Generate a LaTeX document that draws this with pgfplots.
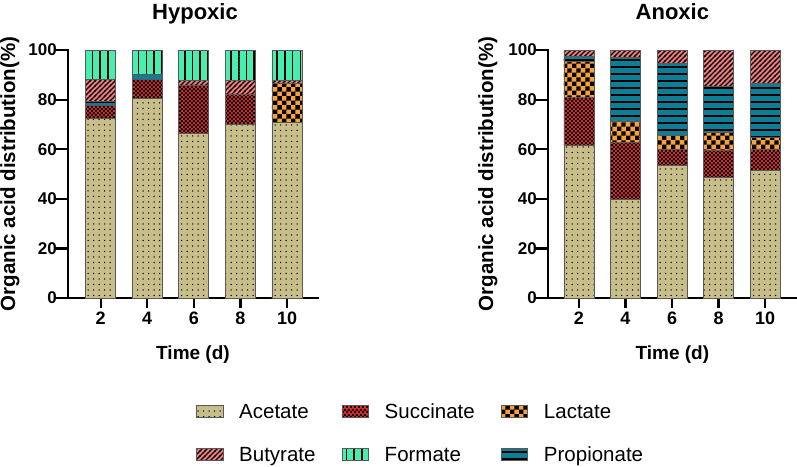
\documentclass[border=0pt]{standalone}
\usepackage{pgfplots}
\pgfplotsset{compat=1.18}
\usetikzlibrary{patterns}
\usepackage{fontspec}
\setmainfont{Liberation Sans}

\pgfdeclarepatternformonly{acetdots}{\pgfqpoint{-1pt}{-1pt}}{\pgfqpoint{1pt}{1pt}}{\pgfqpoint{5.5pt}{5.5pt}}{\pgfpathcircle{\pgfpointorigin}{0.75pt}\pgfusepath{fill}}
\pgfdeclarepatternformonly{smallcheck}{\pgfpointorigin}{\pgfqpoint{4.4pt}{4.4pt}}{\pgfqpoint{4.4pt}{4.4pt}}{\pgfpathrectangle{\pgfpointorigin}{\pgfqpoint{2.25pt}{2.25pt}}\pgfpathrectangle{\pgfqpoint{2.2pt}{2.2pt}}{\pgfqpoint{2.25pt}{2.25pt}}\pgfusepath{fill}}
\pgfdeclarepatternformonly{bigcheck}{\pgfpointorigin}{\pgfqpoint{8.8pt}{8.8pt}}{\pgfqpoint{8.8pt}{8.8pt}}{\pgfpathrectangle{\pgfpointorigin}{\pgfqpoint{4.45pt}{4.45pt}}\pgfpathrectangle{\pgfqpoint{4.4pt}{4.4pt}}{\pgfqpoint{4.45pt}{4.45pt}}\pgfusepath{fill}}
\pgfdeclarepatternformonly{diaglines}{\pgfqpoint{-1pt}{-1pt}}{\pgfqpoint{6pt}{6pt}}{\pgfqpoint{5pt}{5pt}}{\pgfsetlinewidth{1.3pt}\pgfpathmoveto{\pgfqpoint{-1pt}{-1pt}}\pgfpathlineto{\pgfqpoint{6pt}{6pt}}\pgfusepath{stroke}}
\pgfdeclarepatternformonly{vlines}{\pgfqpoint{-1pt}{-1pt}}{\pgfqpoint{1pt}{4pt}}{\pgfqpoint{7.7pt}{3pt}}{\pgfsetlinewidth{1.6pt}\pgfpathmoveto{\pgfqpoint{0pt}{-1pt}}\pgfpathlineto{\pgfqpoint{0pt}{4pt}}\pgfusepath{stroke}}
\pgfdeclarepatternformonly{hlines}{\pgfqpoint{-1pt}{-1pt}}{\pgfqpoint{4pt}{1pt}}{\pgfqpoint{3pt}{7pt}}{\pgfsetlinewidth{1.5pt}\pgfpathmoveto{\pgfqpoint{-1pt}{0pt}}\pgfpathlineto{\pgfqpoint{4pt}{0pt}}\pgfusepath{stroke}}

\definecolor{cAcet}{HTML}{C8BE8A}
\definecolor{cSucc}{HTML}{E8262C}
\definecolor{cLact}{HTML}{F7A03E}
\definecolor{cButy}{HTML}{F47E7E}
\definecolor{cForm}{HTML}{48EDAF}
\definecolor{cProp}{HTML}{0B7E98}

\tikzset{
  barb/.style={pattern color=black, draw=black!65, line width=0.7pt},
  acet/.style={preaction={fill=cAcet}, pattern=acetdots, barb},
  succ/.style={preaction={fill=cSucc}, pattern=smallcheck, barb},
  lact/.style={preaction={fill=cLact}, pattern=bigcheck, barb},
  prop/.style={preaction={fill=cProp}, pattern=hlines, barb},
  buty/.style={preaction={fill=cButy}, pattern=diaglines, barb},
  form/.style={preaction={fill=cForm}, pattern=vlines, barb},
}

\pgfplotsset{
  myax/.style={
    scale only axis, height=248pt,
    ybar stacked, bar width=1.29,
    ymin=0, ymax=100, ytick={0,20,40,60,80,100},
    xtick={2,4,6,8,10},
    axis x line*=bottom, axis y line*=left,
    axis line style={line width=2.2pt, line cap=rect, black},
    tick style={line width=2.2pt, black},
    major tick length=10pt, tick align=outside,
    ytick style={/pgfplots/major tick length=12.5pt},
    /pgf/number format/assume math mode=true,
    yticklabel style={inner sep=1pt, font=\fontsize{17}{20}\selectfont\bfseries},
    xticklabel style={inner sep=4pt, font=\fontsize{18}{21}\selectfont\bfseries},
    xlabel={Time (d)}, ylabel={Organic acid distribution(\%)},
    xlabel style={font=\fontsize{19}{23}\selectfont\bfseries, inner sep=0pt},
    ylabel style={font=\fontsize{20.5}{24}\selectfont\bfseries, inner sep=0pt},
    every axis title shift=0pt,
    title style={font=\fontsize{22}{26}\selectfont\bfseries, inner sep=0pt, anchor=north},
  }
}

\begin{document}
\begin{tikzpicture}
\useasboundingbox (0,0) rectangle (797pt,-466pt);

% ---------------- Hypoxic ----------------
\begin{axis}[myax,
  at={(68pt,-298pt)}, anchor=south west, width=250pt,
  xmin=0.6, xmax=11.33,
  title={Hypoxic},
  title style={at={(axis description cs:0.508,1.19)}},
  xlabel style={at={(axis description cs:0.5,-0.19)}, anchor=north},
  ylabel style={at={(axis description cs:-0.272,0.5)}, anchor=north},
  legend columns=3,
  legend cell align=left,
  legend image code/.code={\draw[#1] (0pt,-6pt) rectangle (26.5pt,6pt);},
  legend style={at={(axis description cs:0.512,-0.408)}, anchor=north west,
    draw=none, fill=none, inner sep=0pt, outer sep=0pt,
    font=\fontsize{20.5}{24}\selectfont,
    nodes={inner sep=0pt, text height=19.6pt, text depth=5pt},
    row sep=18.4pt,
    /tikz/every odd column/.append style={column sep=16pt},
    /tikz/every even column/.append style={column sep=26pt},
    /tikz/column 4/.append style={column sep=32pt}},
]
\addplot[acet, forget plot] coordinates {(2,72.4) (4,80.5) (6,66.2) (8,70.0) (10,70.7)};
\addplot[succ, forget plot] coordinates {(2,5.1) (4,7.7) (6,19.7) (8,12.3) (10,0)};
\addplot[lact, forget plot] coordinates {(2,0) (4,0) (6,0) (8,0) (10,15.9)};
\addplot[prop, forget plot] coordinates {(2,1.9) (4,2.1) (6,0) (8,0) (10,0)};
\addplot[buty, forget plot] coordinates {(2,8.8) (4,0) (6,1.7) (8,5.3) (10,1.3)};
\addplot[form, forget plot] coordinates {(2,11.8) (4,9.7) (6,12.4) (8,12.4) (10,12.1)};
\addlegendimage{acet}\addlegendentry{Acetate}
\addlegendimage{succ}\addlegendentry{Succinate}
\addlegendimage{lact}\addlegendentry{Lactate}
\addlegendimage{buty}\addlegendentry{Butyrate}
\addlegendimage{form}\addlegendentry{Formate}
\addlegendimage{prop}\addlegendentry{Propionate}
\end{axis}

% ---------------- Anoxic ----------------
\begin{axis}[myax,
  at={(548pt,-298pt)}, anchor=south west, width=248.7pt,
  xmin=0.67, xmax=11.36,
  title={Anoxic},
  title style={at={(axis description cs:0.5,1.19)}},
  xlabel style={at={(axis description cs:0.5,-0.19)}, anchor=north},
  ylabel style={at={(axis description cs:-0.2815,0.5)}, anchor=north},
]
\addplot[acet] coordinates {(2,61.7) (4,39.6) (6,53.6) (8,48.5) (10,51.6)};
\addplot[succ] coordinates {(2,19.2) (4,23.0) (6,6.4) (8,11.2) (10,8.5)};
\addplot[lact] coordinates {(2,14.4) (4,8.8) (6,5.4) (8,7.0) (10,4.5)};
\addplot[prop] coordinates {(2,2.0) (4,25.6) (6,29.2) (8,18.8) (10,22.0)};
\addplot[buty] coordinates {(2,2.7) (4,3.0) (6,5.4) (8,14.5) (10,13.4)};
\addplot[form] coordinates {(2,0) (4,0) (6,0) (8,0) (10,0)};
\end{axis}
\end{tikzpicture}
\end{document}
